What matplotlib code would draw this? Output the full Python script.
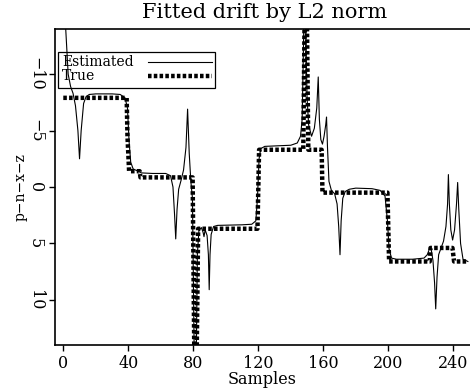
import matplotlib
matplotlib.use('Agg')
import matplotlib.pyplot as plt
from matplotlib.patches import Rectangle

# true drift, vertices (sample, value)
true_x = [0, 39, 39.5, 40.5, 47, 47.5, 79.6, 81.3, 83, 119.5, 120.5, 147.7, 149.2, 150.8, 159, 159.5, 199.5, 200.5, 225.5, 226, 239.5, 240.5, 249]
true_y = [-7.9, -7.9, -4.5, -1.4, -1.4, -0.85, -0.85, 25, 3.7, 3.7, -3.3, -3.3, -25, -3.3, -3.3, 0.5, 0.5, 6.6, 6.6, 5.4, 5.4, 6.6, 6.6]

# estimated drift (L2 fit)
est_x = [0, 1.5, 3, 4.5, 6, 7.5, 9, 10, 11, 12.5, 14, 16, 20, 30, 35, 38, 39.5, 40.5, 41.5, 43, 46, 48, 55, 63,
         66, 67.5, 68.5, 69.2, 70, 71, 72.5, 74, 75.5, 76.5, 77.5, 78.5, 79.5, 80.5, 81.5, 82.5, 83.5, 85, 86,
         86.6, 87.3, 88.5, 89.3, 89.8, 90.3, 91, 92.5, 95, 110, 116, 118.5, 119.5, 120.5, 121.5, 124, 140, 144,
         146, 147, 148, 148.5, 149.2, 150, 151, 152.8, 154.5, 156, 156.9, 157.6, 158.5, 159.5, 160.5, 161.5, 162,
         162.6, 163.5, 165, 167, 168.5, 169.5, 170.3, 171, 172, 173.5, 176, 180, 190, 195, 198, 199.5, 200.5, 202,
         205, 215, 222, 224, 225.3, 226.5, 227.5, 228.5, 229.2, 230, 231, 232.5, 234, 235.5, 236.5, 237, 237.6,
         238.5, 239.6, 240.8, 242, 242.7, 243.4, 244.5, 246, 249]
est_y = [-20, -14, -10, -8.9, -8.3, -7.2, -5, -2.5, -5, -7.4, -8.0, -8.2, -8.25, -8.25, -8.2, -7.9, -7, -4, -2.2, -1.6,
         -1.4, -1.25, -1.2, -1.2, -1.0, 0, 2.5, 4.6, 2, 0.2, -0.6, -1.5, -3.5, -6.9, -3, -0.5, 1, 14, 20, 6, 3.8,
         3.6, 4.0, 4.4, 3.8, 4.3, 6, 9.1, 6, 4.2, 3.5, 3.4, 3.35, 3.3, 3.0, 1, -2.5, -3.4, -3.6, -3.7, -3.9,
         -4.5, -6, -14, -25, -14, -8, -5.5, -4.5, -5.2, -7, -9.75, -6, -4.2, -3.8, -4.5, -5.5, -6.2,
         -3.5, -0.5, 0.3, 0.6, 1.5, 3.5, 6.0, 3, 1, 0.4, 0.2, 0.1, 0.15, 0.3, 0.8, 3, 5.5, 6.3,
         6.4, 6.4, 6.3, 6.0, 5.5, 5.6, 6.5, 8.5, 10.8, 8, 6, 5.4, 4.8, 3.5, 1.5, -1.1, 1.5,
         3.8, 4.7, 3.8, 1.5, -0.4, 2, 5, 6.4, 6.6]

labels = ['Estimated', 'True']
xticks = [0, 40, 80, 120, 160, 200, 240]
yticks = [-10, -5, 0, 5, 10]

plt.rcParams['font.family'] = ['DejaVu Serif']
true_style = dict(color='black', lw=3.2, linestyle=(0, (0.8, 0.5)))
est_style = dict(color='black', lw=0.8)

fig = plt.figure(figsize=(4.70, 3.91), dpi=100)
ax = fig.add_axes([55 / 470, 1 - 345 / 391, 1 - 55 / 470, (345 - 29) / 391])

ax.plot(est_x, est_y, **est_style)
ax.plot(true_x, true_y, **true_style)

ax.set_xlim(-5.1, 250.3)
ax.set_ylim(14, -14)
ax.set_xticks(xticks)
ax.set_yticks(yticks)
ax.tick_params(labelsize=11.5, length=4, width=1)
ax.tick_params(axis='y', pad=4)
plt.setp(ax.get_yticklabels(), rotation=-90, va='center')
ax.spines['right'].set_visible(False)
for s in ['left', 'top', 'bottom']:
    ax.spines[s].set_linewidth(1.2)

ax.set_xlabel('Samples', fontsize=11.5, labelpad=-1)
ax.set_ylabel('p−n−x−z', fontsize=10, rotation=90, va='center', labelpad=4.5)
fig.text(265 / 470, 1 - 13 / 391, 'Fitted drift by L2 norm', ha='center', va='center', fontsize=15)

# legend drawn by hand: labels left, samples right, transparent box
tr = ax.transAxes
ax.add_patch(Rectangle((0.0072, 0.813), 0.378, 0.114, transform=tr, fill=False,
                       edgecolor='black', lw=0.9, clip_on=False))
for lab, yy, st in zip(labels, [0.897, 0.851], [est_style, true_style]):
    ax.text(0.017, yy, lab, transform=tr, fontsize=10, va='center', ha='left')
    ax.plot([0.224, 0.378], [yy, yy], transform=tr, clip_on=False, **st)

fig.savefig('out.png', dpi=100)
